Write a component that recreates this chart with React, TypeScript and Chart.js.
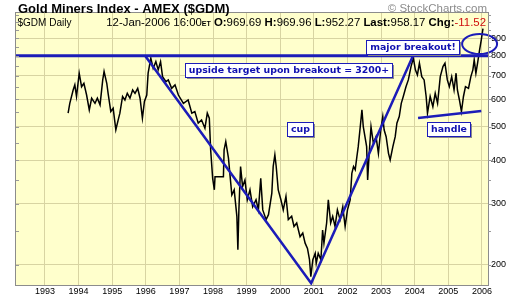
import React, { useEffect, useRef } from "react";
import { Chart, registerables } from "chart.js";
Chart.register(...registerables);

// ---- data ----
const priceYears1 = [1993.69,1993.74,1993.84,1993.89,1993.94,1994.02,1994.09,1994.16,1994.24,1994.32,1994.39,1994.49,1994.56,1994.64,1994.72,1994.76,1994.84,1994.88,1994.96,1995.03,1995.11,1995.18,1995.23,1995.31,1995.38,1995.45,1995.53,1995.61,1995.68,1995.76,1995.83,1995.90,1995.96,1996.03,1996.07,1996.15,1996.22,1996.30,1996.37,1996.44,1996.50,1996.60,1996.67,1996.77,1996.87,1996.97];
const priceValues1 = [547,584,638,660,611,713,652,667,617,559,604,584,604,578,682,721,667,624,553,565,490,523,547,611,597,624,604,638,624,645,604,529,591,617,713,788,737,770,729,770,697,674,682,645,660,617];
const priceYears2 = [1997.12,1997.26,1997.37,1997.46,1997.56,1997.66,1997.76,1997.83,1997.89,1997.93,1997.99,1998.04,1998.06,1998.31,1998.33,1998.38,1998.46,1998.51,1998.56,1998.63,1998.71,1998.74,1998.77,1998.82,1998.88,1998.95,1999.02,1999.10,1999.18,1999.28,1999.35,1999.42,1999.48,1999.58,1999.65,1999.75,1999.79,1999.84,1999.88,1999.94,2000.02,2000.09,2000.17,2000.24,2000.34,2000.41,2000.49,2000.59,2000.67,2000.74,2000.81,2000.87,2000.91,2000.97,2001.04];
const priceValues2 = [584,597,547,553,512,523,495,547,529,429,355,329,359,359,429,453,406,359,318,329,276,221,288,384,336,351,308,329,294,308,288,355,288,270,279,322,384,415,384,329,308,288,315,270,276,258,264,241,247,231,223,207,185,207,216];
const priceYears3 = [2001.07,2001.13,2001.21,2001.26,2001.30,2001.38,2001.43,2001.50,2001.56,2001.63,2001.70,2001.78,2001.86,2001.93,2002.00,2002.08,2002.13,2002.18,2002.23,2002.28,2002.32,2002.38,2002.43,2002.47,2002.52,2002.57,2002.60,2002.64,2002.70,2002.77,2002.85,2002.92,2002.99,2003.05,2003.09,2003.15,2003.22,2003.27,2003.35,2003.42,2003.47,2003.54,2003.60,2003.66,2003.74,2003.81,2003.89,2003.96,2004.02,2004.08,2004.14,2004.21,2004.28,2004.34,2004.38,2004.46,2004.54,2004.61,2004.68,2004.76,2004.84,2004.90,2004.97,2005.03,2005.10,2005.17,2005.23,2005.27,2005.33,2005.39,2005.45,2005.51,2005.60,2005.67,2005.73,2005.77,2005.82,2005.87,2005.93,2005.98,2006.03];
const priceValues3 = [202,216,207,252,231,264,308,264,276,258,288,270,294,258,288,308,367,384,376,410,438,500,559,500,468,438,351,410,500,448,468,419,490,535,490,468,419,401,438,468,512,535,584,611,652,682,745,788,729,705,762,697,682,611,547,611,571,624,584,697,745,762,682,652,697,638,713,638,597,553,611,652,645,697,729,779,713,762,832,889,958];

const yearTicks = [1993,1994,1995,1996,1997,1998,1999,2000,2001,2002,2003,2004,2005,2006];
const priceTicks = [200,300,400,500,600,700,800,900];
const minorPriceTicks = [250,350,450,550,650,750,850,950,1000,1050];

const resistanceYears = [1992.14, 2006.18];
const resistanceValues = [800, 800];
const cupYears = [1995.98, 2000.92, 2003.95];
const cupValues = [800, 177, 800];
const handleYears = [2004.10, 2005.98];
const handleValues = [530, 555];

const labelTexts = ["upside target upon breakout = 3200+", "cup", "major breakout!", "handle"];
const labelYears = [2000.25, 2000.59, 2003.94, 2005.01];
const labelValues = [729, 494, 849, 491];

const ellipseYears = [2005.41, 2006.45];
const ellipseValues = [810, 925];

const title = "Gold Miners Index - AMEX ($GDM)";
const copyright = "\u00A9 StockCharts.com";
const symbolText = "$GDM Daily";
const dateText = "12-Jan-2006 16:00";
const infoLabels = ["O:", "H:", "L:", "Last:", "Chg:"];
const infoValues = ["969.69", "969.96", "952.27", "958.17", "-11.52"];

const X_MIN = 1992.14, X_MAX = 2006.18, Y_MIN = 175, Y_MAX = 1063;
const BLUE = "#1c1cb8";
const FONT = '"Liberation Sans", Arial, sans-serif';

const toPts = (xs: number[], ys: number[]) => xs.map((x, i) => ({ x, y: ys[i] }));

const decorPlugin = {
  id: "decor",
  beforeDraw(chart: any) {
    const { ctx, chartArea: a } = chart;
    ctx.save();
    ctx.fillStyle = "#ffffff";
    ctx.fillRect(0, 0, chart.width, chart.height);
    ctx.fillStyle = "#ffffcc";
    ctx.fillRect(a.left, a.top, a.right - a.left, a.bottom - a.top);
    ctx.restore();
  },
  afterDatasetsDraw(chart: any) {
    const { ctx, scales } = chart;
    const xs = scales.x, ys = scales.y;
    ctx.save();
    // ellipse
    const ex1 = xs.getPixelForValue(ellipseYears[0]);
    const ex2 = xs.getPixelForValue(ellipseYears[1]);
    const ey1 = ys.getPixelForValue(ellipseValues[1]);
    const ey2 = ys.getPixelForValue(ellipseValues[0]);
    ctx.beginPath();
    ctx.ellipse((ex1 + ex2) / 2, (ey1 + ey2) / 2, (ex2 - ex1) / 2, (ey2 - ey1) / 2, 0, 0, Math.PI * 2);
    ctx.strokeStyle = BLUE;
    ctx.lineWidth = 2;
    ctx.stroke();
    // labels
    ctx.font = 'bold 9.4px "DejaVu Sans", Verdana, sans-serif';
    ctx.textAlign = "center";
    ctx.textBaseline = "middle";
    labelTexts.forEach((t, i) => {
      const cx = xs.getPixelForValue(labelYears[i]);
      const cy = ys.getPixelForValue(labelValues[i]);
      const w = Math.round(ctx.measureText(t).width + 7);
      const h = 14;
      const l = Math.round(cx - w / 2) + 0.5, tp = Math.round(cy - h / 2) + 0.5;
      ctx.fillStyle = "#8a8a8a";
      ctx.fillRect(l + 1.5, tp + 1.5, w, h);
      ctx.fillStyle = "#ffffff";
      ctx.fillRect(l, tp, w, h);
      ctx.strokeStyle = BLUE;
      ctx.lineWidth = 1;
      ctx.strokeRect(l, tp, w, h);
      ctx.fillStyle = "#1010b0";
      ctx.fillText(t, l + w / 2, tp + h / 2 + 0.5);
    });
    ctx.restore();
  },
  afterDraw(chart: any) {
    const { ctx, chartArea: a, scales } = chart;
    ctx.save();
    // plot border
    ctx.strokeStyle = "#8c8c8c";
    ctx.lineWidth = 1;
    ctx.strokeRect(a.left - 0.5, a.top - 0.5, a.right - a.left + 1, a.bottom - a.top + 1);
    // minor tick marks on both edges
    ctx.strokeStyle = "#9a9a9a";
    [...priceTicks, ...minorPriceTicks].forEach((v) => {
      const y = Math.round(scales.y.getPixelForValue(v)) + 0.5;
      if (y < a.top || y > a.bottom) return;
      ctx.beginPath();
      ctx.moveTo(a.left, y);
      ctx.lineTo(a.left + 3, y);
      ctx.moveTo(a.right, y);
      ctx.lineTo(a.right + 3, y);
      ctx.stroke();
    });
    // title
    ctx.fillStyle = "#000";
    ctx.textBaseline = "alphabetic";
    ctx.textAlign = "left";
    ctx.font = "bold 13px " + FONT;
    ctx.fillText(title, 18, 12.5);
    // copyright
    ctx.font = "11.5px " + FONT;
    ctx.fillStyle = "#8c8c8c";
    ctx.textAlign = "right";
    ctx.fillText(copyright, 487, 11.5);
    // symbol
    ctx.textAlign = "left";
    ctx.fillStyle = "#000";
    ctx.font = "10px " + FONT;
    ctx.fillText(symbolText, 17.5, 26);
    // info line, right aligned at 486
    const reg = "11.4px " + FONT, bold = "bold 11.4px " + FONT, small = "bold 7px " + FONT;
    const parts: { t: string; f: string; c: string }[] = [];
    parts.push({ t: dateText, f: reg, c: "#000" });
    parts.push({ t: "ET", f: small, c: "#000" });
    infoLabels.forEach((lab, i) => {
      parts.push({ t: " " + lab, f: bold, c: "#000" });
      parts.push({ t: infoValues[i], f: reg, c: i === infoLabels.length - 1 ? "#d01010" : "#000" });
    });
    let total = 0;
    parts.forEach((p) => { ctx.font = p.f; total += ctx.measureText(p.t).width; });
    let x = 486 - total;
    parts.forEach((p) => {
      ctx.font = p.f;
      ctx.fillStyle = p.c;
      ctx.fillText(p.t, x, 26);
      x += ctx.measureText(p.t).width;
    });
    ctx.restore();
  },
};

export default function App() {
  const ref = useRef<HTMLCanvasElement | null>(null);
  useEffect(() => {
    if (!ref.current) return;
    const price = [
      ...toPts(priceYears1, priceValues1),
      ...toPts(priceYears2, priceValues2),
      ...toPts(priceYears3, priceValues3),
    ];
    const chart = new Chart(ref.current, {
      type: "line",
      data: {
        datasets: [
          { data: toPts(resistanceYears, resistanceValues), borderColor: BLUE, borderWidth: 3, pointRadius: 0, order: 0 },
          { data: toPts(cupYears, cupValues), borderColor: BLUE, borderWidth: 2.5, pointRadius: 0, order: 0 },
          { data: toPts(handleYears, handleValues), borderColor: BLUE, borderWidth: 2.5, pointRadius: 0, order: 0 },
          { data: price, borderColor: "#000000", borderWidth: 1.5, pointRadius: 0, order: 1 },
        ] as any,
      },
      options: {
        animation: false,
        responsive: false,
        events: [],
        layout: { padding: { left: 16, top: 13, right: 0, bottom: 0 } },
        plugins: { legend: { display: false }, tooltip: { enabled: false }, title: { display: false } },
        elements: { line: { tension: 0 } },
        scales: {
          x: {
            type: "linear",
            min: X_MIN,
            max: X_MAX,
            afterBuildTicks: (s: any) => { s.ticks = yearTicks.map((v) => ({ value: v })); },
            afterFit: (s: any) => { s.height = 16; },
            grid: { color: "#d8d4a2", lineWidth: 1, drawTicks: false },
            border: { display: false },
            ticks: {
              autoSkip: false,
              maxRotation: 0,
              padding: 1,
              color: "#000",
              font: { family: FONT, size: 9 },
              callback: (v: any) => String(v),
            },
          },
          y: {
            type: "logarithmic",
            position: "right",
            min: Y_MIN,
            max: Y_MAX,
            afterBuildTicks: (s: any) => { s.ticks = priceTicks.map((v) => ({ value: v })); },
            afterFit: (s: any) => { s.width = 32; },
            grid: { color: "#d8d4a2", lineWidth: 1, drawTicks: false },
            border: { display: false },
            ticks: {
              autoSkip: false,
              padding: 3,
              color: "#000",
              font: { family: FONT, size: 9 },
              callback: (v: any) => String(v),
            },
          },
        },
      } as any,
      plugins: [decorPlugin],
    });
    return () => chart.destroy();
  }, []);
  return (
    <div style={{ position: "absolute", left: 0, top: 0, width: 520, height: 301, background: "#fff" }}>
      <canvas ref={ref} width={520} height={301} style={{ width: 520, height: 301, display: "block" }} />
    </div>
  );
}
